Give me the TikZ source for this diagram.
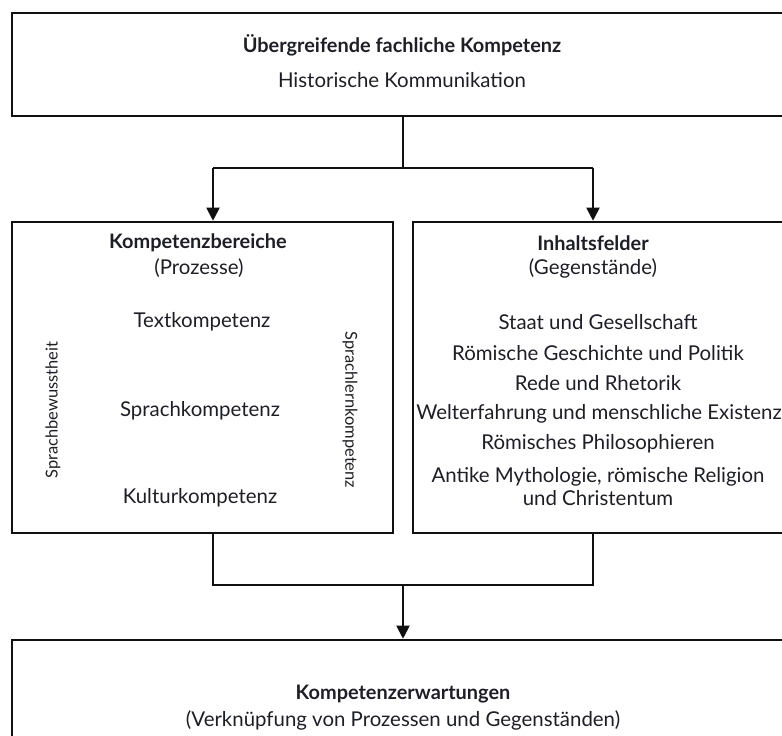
\documentclass[tikz,border=0pt]{standalone}
\usepackage{fontspec}
\setmainfont{Lato}
\usetikzlibrary{arrows.meta,positioning}
\definecolor{kmink}{HTML}{1E1E26}
\definecolor{kmline}{HTML}{111111}

\tikzset{
  kmbox/.style={draw=kmline, line width=2.6bp, minimum width=#1},
  kmtext/.style={text=kmink, font=\fontsize{20.5}{23}\selectfont, align=center, inner sep=0pt},
  kmhead/.style={kmtext, font=\fontsize{20}{23}\selectfont\bfseries},
  kmside/.style={text=kmink, font=\fontsize{16.5}{19}\selectfont, inner sep=0pt},
  kmlink/.style={draw=kmline, line width=2bp},
  kmarrow/.style={kmlink, -{Triangle[width=13bp,length=13bp]}}
}

\begin{document}
\begin{tikzpicture}[x=1bp, y=-1bp]
    \useasboundingbox (0,0) rectangle (782,736);
    \clip (0,0) rectangle (782,736);
    % Boxes
    \node[kmbox=782bp, minimum height=103bp] (top) at (403,64.5) {};
    \node[kmbox=381bp, minimum height=311bp] (proc) at (202.5,377.5) {};
    \node[kmbox=373bp, minimum height=311bp] (cont) at (599.5,377.5) {};
    \node[kmbox=782bp, minimum height=134bp] (expect) at (403,707) {};
    % Top box texts
    \node[kmhead] (topHead) at (402,45) {Übergreifende fachliche Kompetenz};
    \node[kmtext] (topSub) at (402,80) {Historische Kommunikation};
    % Left box texts
    \node[kmhead] (procHead) at (198,243) {Kompetenzbereiche};
    \node[kmtext] (procSub) at (199,268) {(Prozesse)};
    \node[kmtext] (procA) at (202,322) {Textkompetenz};
    \node[kmtext] (procB) at (200,411) {Sprachkompetenz};
    \node[kmtext] (procC) at (200,498) {Kulturkompetenz};
    \node[kmside, rotate=90] (procL) at (53,410) {Sprachbewusstheit};
    \node[kmside, rotate=-90] (procR) at (350,410) {Sprachlernkompetenz};
    % Right box texts
    \node[kmhead] (contHead) at (593,243) {Inhaltsfelder};
    \node[kmtext] (contSub) at (593,268) {(Gegenstände)};
    \node[kmtext] (contA) at (598,322) {Staat und Gesellschaft};
    \node[kmtext] (contB) at (598,353) {Römische Geschichte und Politik};
    \node[kmtext] (contC) at (598,383) {Rede und Rhetorik};
    \node[kmtext] (contD) at (599,414) {Welterfahrung und menschliche Existenz};
    \node[kmtext] (contE) at (598,444) {Römisches Philosophieren};
    \node[kmtext] (contF) at (598,487) {Antike Mythologie, römische Religion\\und Christentum};
    % Bottom box texts
    \node[kmhead] (expectHead) at (403,694) {Kompetenzerwartungen};
    \node[kmtext] (expectSub) at (403,720) {(Verknüpfung von Prozessen und Gegenständen)};
    % Connectors
    \coordinate (split) at (403,168);
    \coordinate (splitL) at (213,168);
    \coordinate (splitR) at (593,168);
    \coordinate (joinL) at (213,585);
    \coordinate (joinR) at (593,585);
    \coordinate (join) at (403,585);
    \draw[kmlink] (top.south -| split) -- (split);
    \draw[kmlink] (splitL) -- (splitR);
    \draw[kmarrow] (splitL) -- (splitL |- proc.north);
    \draw[kmarrow] (splitR) -- (splitR |- cont.north);
    \draw[kmlink] (proc.south -| joinL) -- (joinL) -- (joinR) -- (cont.south -| joinR);
    \draw[kmarrow] (join) -- (join |- expect.north);
\end{tikzpicture}
\end{document}
